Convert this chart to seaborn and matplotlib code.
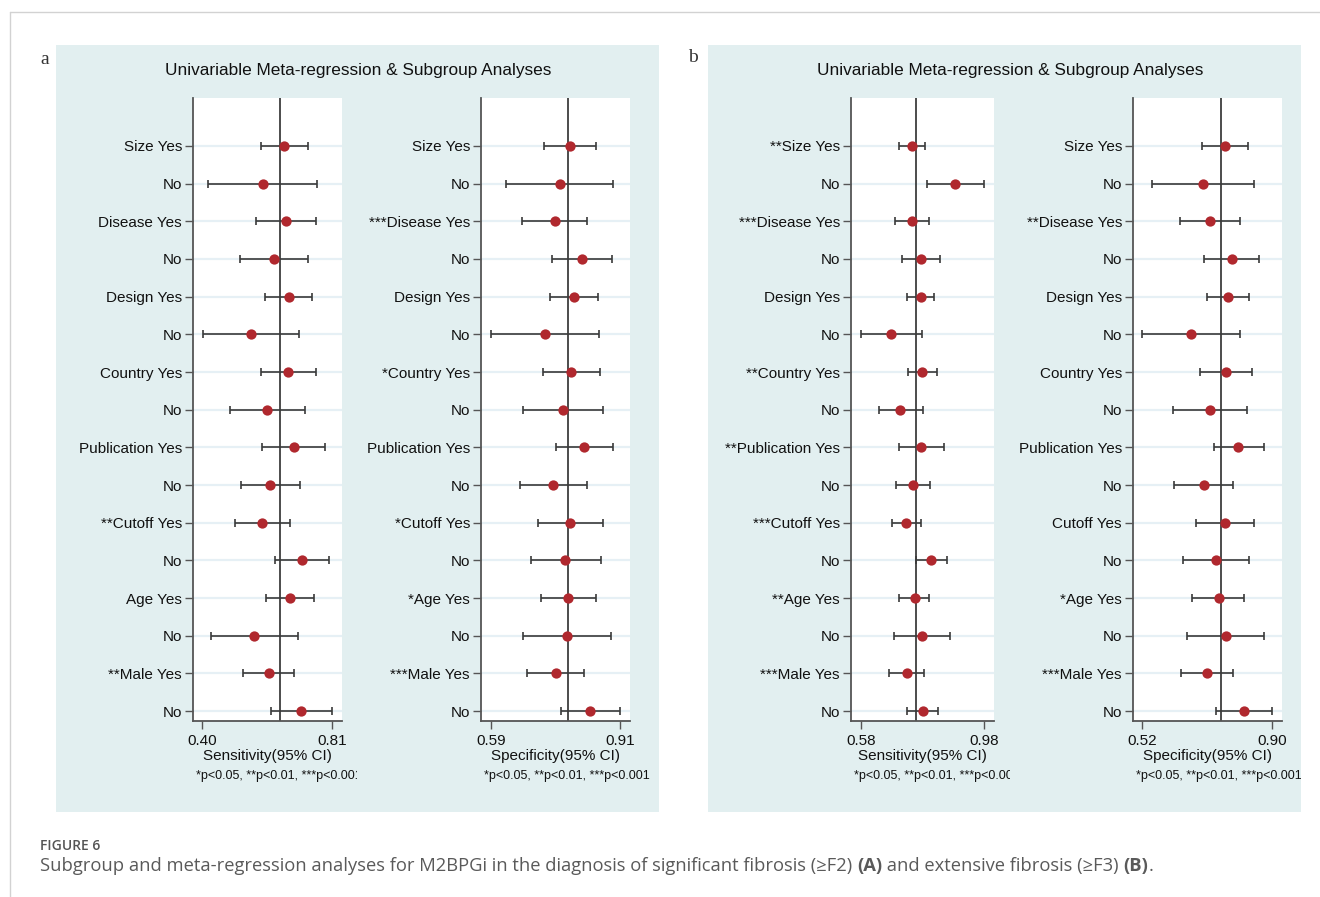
import numpy as np
import pandas as pd
import matplotlib
matplotlib.use("Agg")
import matplotlib.pyplot as plt
from matplotlib.patches import Rectangle
from matplotlib.lines import Line2D
from matplotlib.transforms import Bbox, TransformedBbox
import seaborn as sns

# ---------------------------------------------------------------- data
covariates = ["Size", "Disease", "Design", "Country",
              "Publication", "Cutoff", "Age", "Male"]

# significance flags shown on the "Yes" row of each covariate
sig_a_sens = ["", "", "", "", "", "**", "", "**"]
sig_a_spec = ["", "***", "", "*", "", "*", "*", "***"]
sig_b_sens = ["**", "***", "", "**", "**", "***", "**", "***"]
sig_b_spec = ["", "**", "", "", "", "", "*", "***"]

# rows: Size Yes, Size No, Disease Yes, Disease No, ... Male Yes, Male No
a_sens_est = [0.660, 0.591, 0.665, 0.627, 0.674, 0.553, 0.672, 0.606,
              0.690, 0.615, 0.590, 0.716, 0.677, 0.565, 0.610, 0.714]
a_sens_lo = [0.585, 0.417, 0.569, 0.519, 0.600, 0.401, 0.585, 0.489,
             0.589, 0.523, 0.503, 0.631, 0.602, 0.428, 0.530, 0.617]
a_sens_hi = [0.734, 0.764, 0.761, 0.735, 0.749, 0.705, 0.759, 0.725,
             0.788, 0.710, 0.677, 0.801, 0.755, 0.702, 0.690, 0.811]

a_spec_est = [0.786, 0.761, 0.749, 0.817, 0.797, 0.725, 0.789, 0.768,
              0.821, 0.745, 0.786, 0.775, 0.782, 0.779, 0.751, 0.837]
a_spec_lo = [0.722, 0.628, 0.668, 0.743, 0.738, 0.591, 0.719, 0.670,
             0.752, 0.662, 0.708, 0.689, 0.714, 0.669, 0.680, 0.764]
a_spec_hi = [0.851, 0.894, 0.829, 0.890, 0.855, 0.859, 0.860, 0.867,
             0.892, 0.828, 0.867, 0.862, 0.851, 0.889, 0.821, 0.910]

b_sens_est = [0.745, 0.887, 0.745, 0.774, 0.774, 0.679, 0.780, 0.709,
              0.776, 0.751, 0.728, 0.807, 0.755, 0.778, 0.730, 0.781]
b_sens_lo = [0.704, 0.794, 0.690, 0.715, 0.731, 0.580, 0.733, 0.639,
             0.703, 0.696, 0.680, 0.758, 0.705, 0.689, 0.673, 0.731]
b_sens_hi = [0.790, 0.981, 0.802, 0.836, 0.818, 0.779, 0.826, 0.781,
             0.850, 0.806, 0.777, 0.860, 0.802, 0.871, 0.786, 0.832]

b_spec_est = [0.762, 0.698, 0.718, 0.782, 0.770, 0.662, 0.765, 0.719,
              0.801, 0.700, 0.762, 0.735, 0.743, 0.765, 0.710, 0.818]
b_spec_lo = [0.694, 0.547, 0.629, 0.700, 0.708, 0.520, 0.689, 0.611,
             0.729, 0.614, 0.678, 0.638, 0.666, 0.652, 0.633, 0.737]
b_spec_hi = [0.830, 0.848, 0.807, 0.863, 0.833, 0.805, 0.841, 0.827,
             0.876, 0.786, 0.847, 0.832, 0.819, 0.877, 0.786, 0.900]

# pooled estimates (vertical reference lines)
pooled = {"a_sens": 0.647, "a_spec": 0.781, "b_sens": 0.760, "b_spec": 0.749}

tick_a_sens = [0.40, 0.81]
tick_a_spec = [0.59, 0.91]
tick_b_sens = [0.58, 0.98]
tick_b_spec = [0.52, 0.90]

title = "Univariable Meta-regression & Subgroup Analyses"
footnote = "*p<0.05, **p<0.01, ***p<0.001"
caption_head = "FIGURE 6"

# ---------------------------------------------------------------- style
sns.set_theme(style="white")
plt.rcParams["font.family"] = ["Liberation Sans", "DejaVu Sans"]

RED = "#b0282e"
BAR = "#3a3a3a"
AXC = "#555555"
GRID = "#e6f0f5"
PANEL = "#e2eff0"

W, H = 1320, 897
fig = plt.figure(figsize=(W / 100, H / 100), dpi=100)
fig.patch.set_facecolor("white")


def fx(x):
    return x / W


def fy(y):
    return 1 - y / H


def add_rect(x0, y0, x1, y1, **kw):
    fig.add_artist(Rectangle((fx(x0), fy(y1)), fx(x1) - fx(x0), fy(y0) - fy(y1),
                             transform=fig.transFigure, **kw))


def row_labels(sig):
    out = []
    for c, s in zip(covariates, sig):
        out += [f"{s}{c} Yes", "No"]
    return out


# page frame
fig.add_artist(Line2D([fx(10), 1], [fy(12), fy(12)], transform=fig.transFigure,
                      color="#d2d2d2", lw=1))
fig.add_artist(Line2D([fx(10), fx(10)], [fy(12), 0], transform=fig.transFigure,
                      color="#d2d2d2", lw=1))

# panel backgrounds
add_rect(56, 45, 659, 812, facecolor=PANEL, edgecolor="none", zorder=0)
add_rect(708, 45, 1301, 812, facecolor=PANEL, edgecolor="none", zorder=0)

fig.text(fx(45), fy(60), "a", family="Liberation Serif", fontsize=14,
         color="#333333", ha="center", va="center")
fig.text(fx(693), fy(57), "b", family="Liberation Serif", fontsize=14,
         color="#333333", ha="center", va="center")
fig.text(fx(358), fy(70), title, fontsize=12.4, color="#111111",
         ha="center", va="center")
fig.text(fx(1010), fy(70), title, fontsize=12.4, color="#111111",
         ha="center", va="center")

plots = [
    dict(x0=193, x1=342, est=a_sens_est, lo=a_sens_lo, hi=a_sens_hi,
         sig=sig_a_sens, ref=pooled["a_sens"], ticks=tick_a_sens,
         xlim=(0.3705, 0.8426), xlabel="Sensitivity(95% CI)", clip=(56, 357)),
    dict(x0=481, x1=630, est=a_spec_est, lo=a_spec_lo, hi=a_spec_hi,
         sig=sig_a_spec, ref=pooled["a_spec"], ticks=tick_a_spec,
         xlim=(0.566, 0.935), xlabel="Specificity(95% CI)", clip=(357, 659)),
    dict(x0=851, x1=994, est=b_sens_est, lo=b_sens_lo, hi=b_sens_hi,
         sig=sig_b_sens, ref=pooled["b_sens"], ticks=tick_b_sens,
         xlim=(0.5485, 1.0124), xlabel="Sensitivity(95% CI)", clip=(708, 1010)),
    dict(x0=1133, x1=1282, est=b_spec_est, lo=b_spec_lo, hi=b_spec_hi,
         sig=sig_b_spec, ref=pooled["b_spec"], ticks=tick_b_spec,
         xlim=(0.4924, 0.929), xlabel="Specificity(95% CI)", clip=(1010, 1301)),
]

TOP, BOT = 98, 721
n_rows = 2 * len(covariates)

for p in plots:
    ax = fig.add_axes([fx(p["x0"]), fy(BOT), fx(p["x1"]) - fx(p["x0"]),
                       fy(TOP) - fy(BOT)])
    ax.set_facecolor("white")
    df = pd.DataFrame({"row": np.arange(n_rows), "est": p["est"],
                       "lo": p["lo"], "hi": p["hi"]})

    for r in df["row"]:
        ax.axhline(r, color=GRID, lw=1.6, zorder=0)
    ax.axvline(p["ref"], color="#2e2e2e", lw=1.2, zorder=1)

    ax.errorbar(df["est"], df["row"],
                xerr=[df["est"] - df["lo"], df["hi"] - df["est"]],
                fmt="none", ecolor=BAR, elinewidth=1.2, capsize=2.8,
                capthick=1.2, zorder=2)
    sns.scatterplot(data=df, x="est", y="row", ax=ax, color=RED, s=55,
                    linewidth=0, zorder=3, legend=False)

    ax.set_ylim(n_rows - 1 + 0.265, -1.274)
    ax.set_xlim(*p["xlim"])
    ax.set_yticks(df["row"])
    ax.set_yticklabels(row_labels(p["sig"]))
    ax.set_xticks(p["ticks"])
    ax.set_xticklabels([f"{t:.2f}" for t in p["ticks"]])
    ax.set_ylabel("")
    ax.set_xlabel(p["xlabel"], fontsize=11, labelpad=1, color="#111111")

    for side in ("top", "right"):
        ax.spines[side].set_visible(False)
    for side in ("left", "bottom"):
        ax.spines[side].set_visible(True)
        ax.spines[side].set_color(AXC)
        ax.spines[side].set_linewidth(1.3)

    ax.tick_params(axis="y", left=True, length=6, width=1, color=AXC, pad=2,
                   labelsize=11, labelcolor="#111111")
    ax.tick_params(axis="x", bottom=True, length=6, width=1, color=AXC, pad=3,
                   labelsize=11, labelcolor="#111111")

    t = fig.text(fx(p["x0"] + 3), fy(776), footnote, fontsize=9,
                 color="#111111", ha="left", va="center")
    cx0, cx1 = p["clip"]
    t.set_clip_box(TransformedBbox(Bbox([[fx(cx0), fy(812)], [fx(cx1), fy(45)]]),
                                   fig.transFigure))
    t.set_clip_on(True)

# caption
cap_font = ["Open Sans", "DejaVu Sans"]
fig.text(fx(40), fy(846), caption_head, family=cap_font, fontsize=10,
         fontweight="semibold", color="#555555", ha="left", va="center")

pieces = [
    ("Subgroup and meta-regression analyses for M2BPGi in the diagnosis of "
     "significant fibrosis (\u2265F2) ", "normal"),
    ("(A)", "bold"),
    (" and extensive fibrosis (\u2265F3) ", "normal"),
    ("(B)", "bold"),
    (".", "normal"),
]
renderer = fig.canvas.get_renderer()
xpos = fx(40)
for txt, wt in pieces:
    tt = fig.text(xpos, fy(866), txt, family=cap_font, fontsize=13.2,
                  fontweight=wt, color="#5a5a5a", ha="left", va="center")
    bb = tt.get_window_extent(renderer=renderer)
    xpos += bb.width / W

fig.savefig("out.png", dpi=100, facecolor="white")
